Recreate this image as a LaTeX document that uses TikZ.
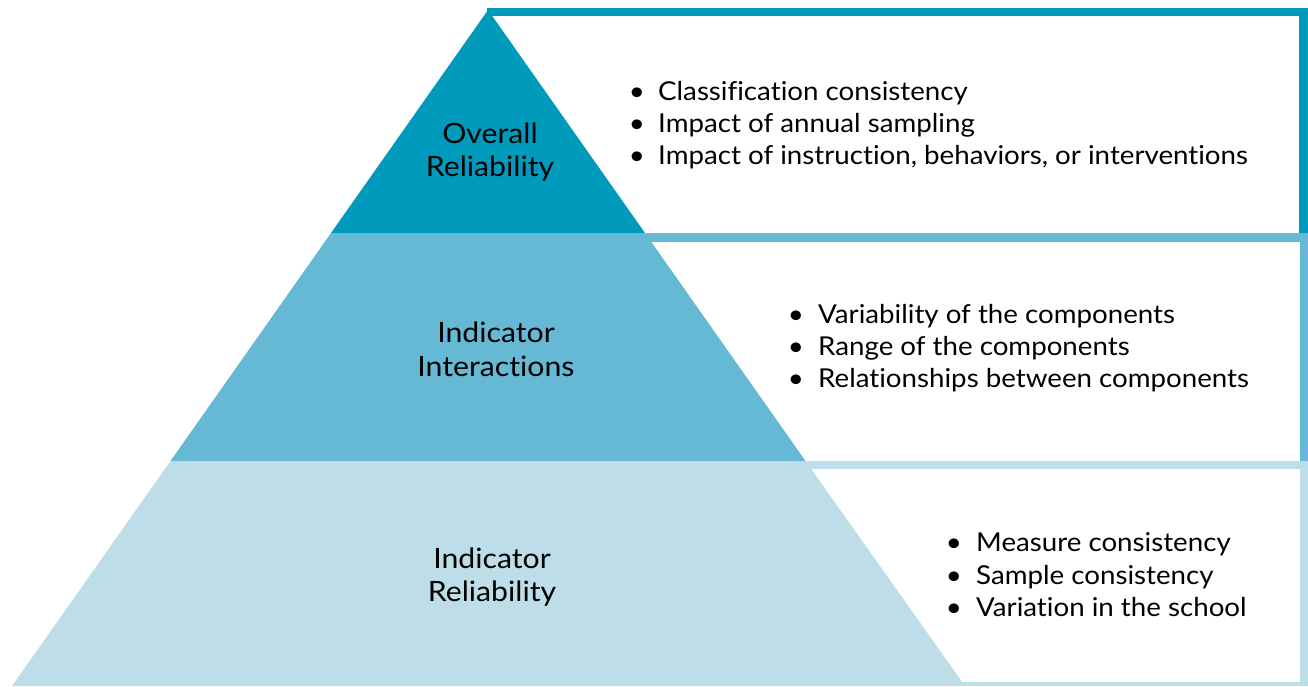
\documentclass[tikz,border=0pt]{standalone}
\usepackage{fontspec}
\setmainfont[FakeStretch=1.065,Ligatures={NoCommon,NoRare}]{Lato}
\newfontfamily\lblfont[FakeStretch=1.08,Ligatures={NoCommon,NoRare}]{Lato}
\definecolor{tierA}{HTML}{009ABD}
\definecolor{tierB}{HTML}{66B9D4}
\definecolor{tierC}{HTML}{BDDEE8}
\begin{document}
\begin{tikzpicture}[x=1pt,y=-1pt,
  txt/.style={inner sep=0pt, font=\fontsize{26}{32}\selectfont, text=black},
  item/.style={txt, anchor=base west},
  dot/.style={txt, anchor=base},
  lbl/.style={inner sep=0pt, font=\lblfont\fontsize{28}{34}\selectfont, text=black, anchor=base}]
\useasboundingbox (0,0) rectangle (1308,686);
% frames of the boxes
\fill[tierA] (487,8) rectangle (1308,233);
\fill[white] (487,16) rectangle (1299,233);
\fill[tierB] (643,233) rectangle (1308,461);
\fill[white] (643,242) rectangle (1300,461);
\fill[tierC] (798,461) rectangle (1308,686);
\fill[white] (798,469) rectangle (1300,682);
% pyramid tiers
\fill[tierA] (488,10) -- (645,233) -- (331,233) -- cycle;
\fill[tierB] (331,233) -- (645,233) -- (805.5,461) -- (170.5,461) -- cycle;
\fill[tierC] (170.5,461) -- (805.5,461) -- (965,686) -- (12,686) -- cycle;
% tier labels
\node[lbl] (a1) at (490,143) {Overall};
\node[lbl] (a2) at (490,176) {Reliability};
\node[lbl] (b1) at (496,342) {Indicator};
\node[lbl] (b2) at (496,376) {Interactions};
\node[lbl] (c1) at (492,568) {Indicator};
\node[lbl] (c2) at (492,601) {Reliability};
% box 1 list
\node[dot] (d11) at (637,100) {•};
\node[item] (t11) at (658,100) {Classification consistency};
\node[dot] (d12) at (637,132) {•};
\node[item] (t12) at (658,132) {Impact of annual sampling};
\node[dot] (d13) at (637,164) {•};
\node[item] (t13) at (658,164) {Impact of instruction, behaviors, or interventions};
% box 2 list
\node[dot] (d21) at (796,323) {•};
\node[item] (t21) at (818,323) {Variability of the components};
\node[dot] (d22) at (796,355) {•};
\node[item] (t22) at (818,355) {Range of the components};
\node[dot] (d23) at (796,387) {•};
\node[item] (t23) at (818,387) {Relationships between components};
% box 3 list
\node[dot] (d31) at (954,551) {•};
\node[item] (t31) at (976,551) {Measure consistency};
\node[dot] (d32) at (954,584) {•};
\node[item] (t32) at (976,584) {Sample consistency};
\node[dot] (d33) at (954,616) {•};
\node[item] (t33) at (976,616) {Variation in the school};
\end{tikzpicture}
\end{document}
